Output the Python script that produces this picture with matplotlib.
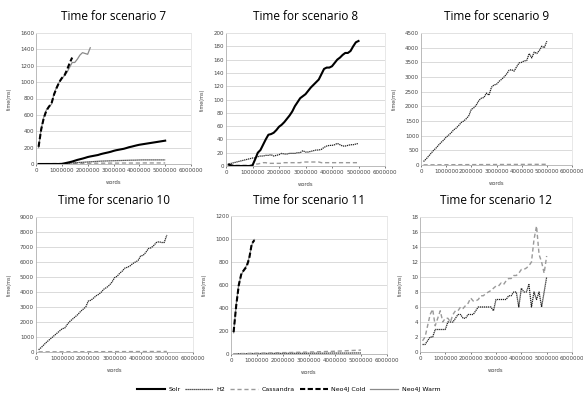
import matplotlib
matplotlib.use("Agg")
import matplotlib.pyplot as plt
from matplotlib.ticker import FuncFormatter

# word counts (x axis), 100k steps up to 5M
words = [
    100000, 200000, 300000, 400000, 500000, 600000, 700000, 800000, 900000, 1000000,
    1100000, 1200000, 1300000, 1400000, 1500000, 1600000, 1700000, 1800000, 1900000, 2000000,
    2100000, 2200000, 2300000, 2400000, 2500000, 2600000, 2700000, 2800000, 2900000, 3000000,
    3100000, 3200000, 3300000, 3400000, 3500000, 3600000, 3700000, 3800000, 3900000, 4000000,
    4100000, 4200000, 4300000, 4400000, 4500000, 4600000, 4700000, 4800000, 4900000, 5000000,
]

# ---- scenario 7 ----
s7_solr = [0, 0, 0, 0, 0, 0, 0, 0, 0, 1, 8, 15, 22, 30, 40, 50, 58, 66, 75, 85,
           92, 98, 104, 110, 120, 128, 135, 142, 150, 160, 168, 174, 180, 186, 195,
           205, 212, 220, 228, 235, 240, 245, 250, 255, 260, 265, 270, 275, 280, 285]
s7_h2 = [0, 0, 0, 0, 0, 0, 0, 0, 0, 1, 5, 8, 11, 13, 15, 17, 19, 21, 23, 25,
         27, 29, 31, 33, 35, 36, 37, 38, 39, 40, 41, 42, 43, 44, 45, 46, 47, 47, 48, 49,
         50, 50, 50, 50, 50, 50, 50, 50, 50, 50]
s7_cass = [2, 3, 3, 4, 4, 5, 5, 5, 6, 6, 6, 7, 7, 7, 8, 8, 8, 8, 9, 9,
           9, 9, 10, 10, 10, 10, 10, 11, 11, 11, 11, 11, 12, 12, 12, 12, 12, 12, 12, 12,
           13, 13, 13, 13, 13, 13, 13, 13, 13, 13]
s7_neo_cold = [210, 420, 560, 650, 700, 740, 850, 930, 1000, 1050, 1080, 1150, 1230, 1300]
s7_neo_warm = [200, 430, 570, 660, 700, 730, 860, 940, 1000, 1040, 1080, 1120, 1180, 1240,
               1240, 1280, 1330, 1360, 1350, 1340, 1420]

# ---- scenario 8 ----
s8_solr = [2, 1, 0, 0, 0, 0, 0, 0, 0, 1, 10, 20, 24, 32, 40, 47, 48, 50, 54, 59,
           62, 66, 71, 76, 82, 90, 96, 102, 105, 108, 113, 118, 122, 126, 130, 138, 146,
           148, 148, 150, 155, 160, 163, 167, 170, 170, 173, 180, 186, 188]
s8_h2 = [3, 4, 5, 6, 7, 8, 9, 10, 11, 12, 12, 14, 15, 15, 16, 16, 17, 15, 16, 17,
         19, 18, 18, 19, 19, 19, 20, 20, 23, 21, 21, 22, 23, 24, 24, 25, 28, 30, 31, 31,
         32, 34, 32, 30, 30, 31, 32, 32, 33, 34]
s8_cass = [1, 1, 1, 1, 1, 1, 1, 1, 1, 1, 3, 3, 4, 5, 5, 4, 4, 4, 4, 4,
           4, 5, 5, 5, 5, 5, 5, 5, 6, 6, 6, 6, 6, 6, 6, 5, 5, 5, 5, 5,
           5, 5, 5, 5, 5, 5, 5, 5, 5, 5]

# ---- scenario 9 ----
s9_h2 = [120, 200, 300, 400, 500, 580, 680, 770, 850, 950, 1020, 1100, 1200, 1260, 1350,
         1450, 1500, 1580, 1680, 1900, 1950, 2050, 2200, 2280, 2300, 2450, 2380, 2650, 2730,
         2750, 2850, 2920, 3000, 3100, 3230, 3250, 3200, 3350, 3480, 3500, 3550, 3560, 3800,
         3650, 3850, 3800, 3900, 4050, 4000, 4220]
s9_cass = [5, 6, 6, 7, 7, 8, 8, 9, 9, 10, 10, 10, 11, 11, 11, 12, 12, 12, 13, 13,
           13, 14, 14, 14, 15, 15, 15, 16, 16, 16, 17, 17, 17, 18, 18, 18, 19, 19, 19, 20,
           20, 20, 21, 21, 21, 22, 22, 22, 23, 23]

# ---- scenario 10 ----
s10_h2 = [150, 300, 480, 650, 800, 950, 1100, 1250, 1400, 1550, 1600, 1850, 2050, 2200, 2350,
          2500, 2700, 2850, 3000, 3400, 3450, 3600, 3750, 3850, 4000, 4200, 4300, 4450, 4650,
          4950, 5050, 5250, 5400, 5600, 5650, 5750, 5900, 6000, 6100, 6400, 6450, 6650, 6900,
          6950, 7100, 7300, 7350, 7300, 7300, 7800]
s10_cass = [10, 10, 11, 11, 12, 12, 13, 13, 14, 14, 15, 15, 16, 16, 17, 17, 18, 18, 19, 19,
            20, 20, 21, 21, 22, 22, 23, 23, 24, 24, 25, 25, 26, 26, 27, 27, 28, 28, 29, 29,
            30, 30, 31, 31, 32, 32, 33, 33, 34, 34]

# ---- scenario 11 ----
s11_neo_cold = [190, 420, 600, 700, 730, 760, 830, 960, 990]
s11_neo_warm = [185, 430, 610, 690, 735, 770, 840, 950, 995]
s11_h2 = [2, 2, 3, 3, 3, 3, 4, 4, 4, 4, 4, 4, 5, 5, 5, 5, 5, 5, 5, 5,
          6, 6, 6, 6, 6, 6, 6, 6, 6, 7, 7, 7, 7, 7, 7, 7, 7, 8, 8, 8,
          8, 8, 8, 8, 8, 8, 9, 9, 9, 9]
s11_cass = [2, 3, 3, 4, 4, 5, 5, 6, 6, 7, 7, 8, 8, 9, 9, 10, 10, 11, 11, 12,
            12, 13, 13, 14, 14, 15, 15, 16, 16, 17, 18, 18, 19, 20, 20, 21, 22, 22, 23, 24,
            25, 26, 27, 28, 29, 30, 31, 32, 33, 34]

# ---- scenario 12 ----
s12_h2 = [1, 1, 1.5, 2, 2, 3, 3, 3, 3, 3, 4, 4, 4, 4.5, 5, 5, 4.5, 4.5, 5, 5,
          5, 5.5, 6, 6, 6, 6, 6, 6, 5.5, 7, 7, 7, 7, 7, 7.5, 7.5, 8, 8, 6, 8.5,
          8, 8, 9, 6, 8, 7, 8, 6, 8, 10]
s12_cass = [1.5, 2, 3.5, 5, 5.7, 3.5, 4.5, 5.5, 4, 4.5, 4.5, 4, 5, 5.5, 5.5, 6, 5.8, 6.2,
            6.5, 7.2, 6.8, 6.8, 7, 7.5, 7.5, 7.8, 8, 8.2, 8.5, 8.8, 8.8, 9.2, 9, 9.5, 9.8,
            9.8, 10.2, 10.2, 10.5, 11, 11, 11.2, 11.5, 12, 15, 16.8, 13, 12, 10.5, 12.8]

series_names = ["Solr", "H2", "Cassandra", "Neo4J Cold", "Neo4J Warm"]

STYLE = {
    "Solr":       dict(color="black", lw=1.5, ls="-"),
    "H2":         dict(color="#222222", lw=0.9, ls=(0, (1, 0.6))),
    "Cassandra":  dict(color="#9a9a9a", lw=1.0, ls=(0, (3, 2))),
    "Neo4J Cold": dict(color="black", lw=1.5, ls=(0, (2.5, 1.2))),
    "Neo4J Warm": dict(color="#8a8a8a", lw=0.9, ls="-"),
}

# title, y max, y step, axes box in pixels (left, top, right, bottom), series
panels = [
    ("Time for scenario 7", 1600, 200, [36, 33, 191, 164],
     {"Cassandra": s7_cass, "H2": s7_h2, "Solr": s7_solr,
      "Neo4J Warm": s7_neo_warm, "Neo4J Cold": s7_neo_cold}),
    ("Time for scenario 8", 200, 20, [226, 33, 385, 166],
     {"Cassandra": s8_cass, "H2": s8_h2, "Solr": s8_solr}),
    ("Time for scenario 9", 4500, 500, [421, 33, 572, 165],
     {"Cassandra": s9_cass, "H2": s9_h2}),
    ("Time for scenario 10", 9000, 1000, [36, 217, 193, 352],
     {"Cassandra": s10_cass, "H2": s10_h2}),
    ("Time for scenario 11", 1200, 200, [231, 216, 387, 354],
     {"H2": s11_h2, "Cassandra": s11_cass,
      "Neo4J Warm": s11_neo_warm, "Neo4J Cold": s11_neo_cold}),
    ("Time for scenario 12", 18, 2, [420, 217, 572, 352],
     {"Cassandra": s12_cass, "H2": s12_h2}),
]

W, H = 583, 399
fig = plt.figure(figsize=(W / 100, H / 100), dpi=100)

for title, ymax, ystep, (x0, y0, x1, y1), data in panels:
    ax = fig.add_axes([x0 / W, 1 - y1 / H, (x1 - x0) / W, (y1 - y0) / H])
    for name, vals in data.items():
        ax.plot(words[:len(vals)], vals, **STYLE[name])
    ax.set_xlim(0, 6000000)
    ax.set_ylim(0, ymax)
    ax.set_xticks(range(0, 6000001, 1000000))
    ax.set_yticks([ystep * k for k in range(int(round(ymax / ystep)) + 1)])
    ax.xaxis.set_major_formatter(FuncFormatter(lambda v, p: f"{int(v)}"))
    ax.yaxis.set_major_formatter(FuncFormatter(lambda v, p: f"{v:g}"))
    ax.grid(axis="y", color="#d4d4d4", lw=0.6)
    ax.set_axisbelow(True)
    for side in ("top", "right"):
        ax.spines[side].set_color("#e4e4e4")
        ax.spines[side].set_linewidth(0.6)
    for side in ("left", "bottom"):
        ax.spines[side].set_color("#b0b0b0")
        ax.spines[side].set_linewidth(0.6)
    ax.tick_params(labelsize=4, colors="#444444", length=1.5, width=0.5, pad=1.5)
    ax.tick_params(axis="y", length=0)
    ax.set_xlabel("words", fontsize=3.8, color="#444444", labelpad=5)
    ax.set_ylabel("time(ms)", fontsize=3.5, color="#444444", labelpad=6)
    ax.set_title(title, fontsize=8.5, family=["Open Sans", "DejaVu Sans"], pad=9)

handles = [plt.Line2D([], [], **STYLE[n]) for n in series_names]
fig.legend(handles, series_names, loc="center", bbox_to_anchor=(0.495, 0.024),
           ncol=5, fontsize=4.5, frameon=False, handlelength=4.5, columnspacing=0.8,
           handletextpad=0.5)

fig.savefig("out.png", dpi=100, facecolor="white")
